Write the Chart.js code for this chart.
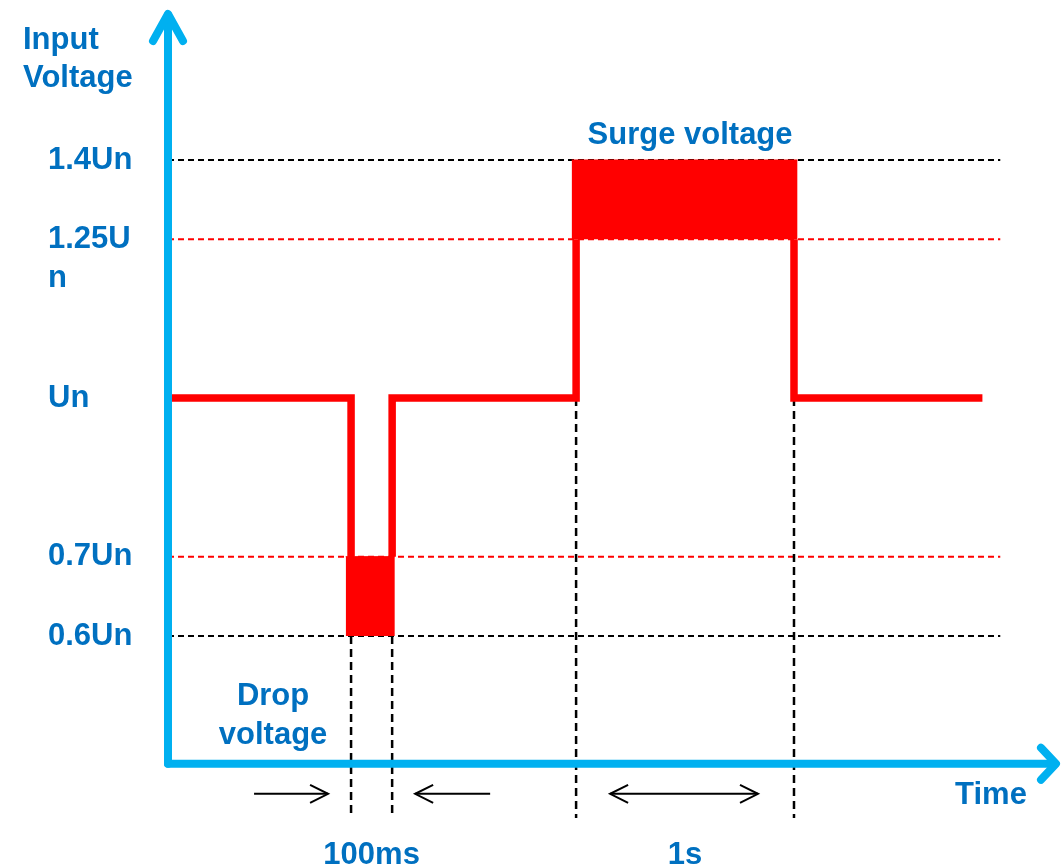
<!DOCTYPE html>
<html><head><meta charset="utf-8">
<script src="https://cdn.jsdelivr.net/npm/chart.js@4.4.1/dist/chart.umd.min.js"></script>
<style>html,body{margin:0;padding:0;background:#fff;} canvas{display:block;}</style>
</head><body>
<canvas id="c" width="1061" height="865"></canvas>
<script>
// ---- data ----
const voltLevels = [0.6, 0.7, 1.0, 1.25, 1.4];
const voltLabels = ['0.6Un', '0.7Un', 'Un', '1.25Un', '1.4Un'];
const levelRows = [0, 1, 3, 5, 6];            // schematic row of each level on the voltage axis
const blackRefVolts = [1.4, 0.6];
const redRefVolts = [1.25, 0.7];
const signalTimes = [0.03, 2.05, 2.05, 2.28, 2.51, 2.51, 4.57, 4.57, 5.79, 7.01, 7.01, 9.12];
const signalVolts = [1.0, 1.0, 0.7, null, 0.7, 1.0, 1.0, 1.25, null, 1.25, 1.0, 1.0];
const dropTimes = [1.99, 2.54];
const dropVolts = [0.6, 0.7];
const surgeTimes = [4.52, 7.05];
const surgeVolts = [1.25, 1.4];
const eventTimes = [2.05, 2.51, 4.57, 7.01];
const eventVolts = [0.6, 0.6, 1.0, 1.0];
const durationLabels = ['100ms', '1s'];
const durationSpans = [[2.05, 2.51], [4.57, 7.01]];

// ---- layout ----
const X_MAX = 10, Y_MIN = -2.3824, Y_MAX = 8.0168;
const REF_END = 9.32, GUIDE_BOTTOM = -2.294, AXIS_ROW = -1.61, ARROW_ROW = -1.99;
const FONT = '"Liberation Sans", Arial, sans-serif';
const BLUE = '#0070C0', AXIS_BLUE = '#00B0F0', RED = '#FF0000';

const row = v => levelRows[voltLevels.indexOf(v)];

const datasets = [];
datasets.push({
  data: signalTimes.map((t, i) => ({x: t, y: signalVolts[i] === null ? null : row(signalVolts[i])})),
  borderColor: RED, borderWidth: 7.5, borderJoinStyle: 'miter', borderCapStyle: 'butt', order: 0
});
datasets.push({
  data: dropTimes.map(t => ({x: t, y: row(dropVolts[1])})),
  borderColor: RED, borderWidth: 1, fill: {value: row(dropVolts[0])}, backgroundColor: RED, order: 1
});
datasets.push({
  data: surgeTimes.map(t => ({x: t, y: row(surgeVolts[1])})),
  borderColor: RED, borderWidth: 1, fill: {value: row(surgeVolts[0])}, backgroundColor: RED, order: 1
});
blackRefVolts.forEach(v => datasets.push({
  data: [{x: 0, y: row(v)}, {x: REF_END, y: row(v)}],
  borderColor: '#000', borderWidth: 2, borderDash: [6, 4], order: 3
}));
redRefVolts.forEach(v => datasets.push({
  data: [{x: 0, y: row(v)}, {x: REF_END, y: row(v)}],
  borderColor: RED, borderWidth: 2, borderDash: [6, 4], order: 3
}));
eventTimes.forEach((t, i) => datasets.push({
  data: [{x: t, y: row(eventVolts[i])}, {x: t, y: GUIDE_BOTTOM}],
  borderColor: '#000', borderWidth: 2.5, borderDash: [8, 5], order: 2
}));

const wrapLabel = s => s.length > 5 ? ['', s.slice(0, 5), s.slice(5)] : s;

const schematic = {
  id: 'schematic',
  afterDraw(chart) {
    const {ctx, chartArea: ca, scales: {x: xs, y: ys}} = chart;
    const ox = xs.getPixelForValue(0), oy = ys.getPixelForValue(AXIS_ROW);
    ctx.save();
    // axes with arrow heads
    ctx.strokeStyle = AXIS_BLUE; ctx.lineWidth = 8; ctx.lineCap = 'round'; ctx.lineJoin = 'round';
    ctx.beginPath(); ctx.moveTo(ox, oy); ctx.lineTo(ox, ca.top + 15); ctx.stroke();
    ctx.beginPath(); ctx.moveTo(ox - 15, ca.top + 41); ctx.lineTo(ox, ca.top + 14); ctx.lineTo(ox + 15, ca.top + 41); ctx.stroke();
    const tipX = ca.right - 5;
    ctx.beginPath(); ctx.moveTo(ox, oy); ctx.lineTo(tipX - 2, oy); ctx.stroke();
    ctx.beginPath(); ctx.moveTo(tipX - 15, oy - 16); ctx.lineTo(tipX, oy); ctx.lineTo(tipX - 15, oy + 16); ctx.stroke();

    // duration arrows
    ctx.strokeStyle = '#000'; ctx.lineWidth = 2; ctx.lineCap = 'butt'; ctx.lineJoin = 'miter';
    const ay = ys.getPixelForValue(ARROW_ROW);
    const head = (x, dir) => { ctx.beginPath(); ctx.moveTo(x - dir * 18, ay - 9); ctx.lineTo(x, ay); ctx.lineTo(x - dir * 18, ay + 9); ctx.stroke(); };
    const seg = (a, b) => { ctx.beginPath(); ctx.moveTo(a, ay); ctx.lineTo(b, ay); ctx.stroke(); };
    const d0 = xs.getPixelForValue(durationSpans[0][0]), d1 = xs.getPixelForValue(durationSpans[0][1]);
    seg(d0 - 97, d0 - 23); head(d0 - 23, 1);
    seg(d1 + 23, d1 + 98); head(d1 + 23, -1);
    const s0 = xs.getPixelForValue(durationSpans[1][0]), s1 = xs.getPixelForValue(durationSpans[1][1]);
    seg(s0 + 34, s1 - 36); head(s0 + 34, -1); head(s1 - 36, 1);

    // texts
    ctx.fillStyle = BLUE; ctx.font = 'bold 31px ' + FONT; ctx.textBaseline = 'middle';
    ctx.textAlign = 'left';
    ctx.fillText('Input', 23, 40);
    ctx.fillText('Voltage', 23, 78);
    ctx.textAlign = 'center';
    ctx.fillText('Surge voltage', (s0 + s1) / 2 + 5, ys.getPixelForValue(row(1.4)) - 25);
    ctx.fillText('Drop', d0 - 78, 696);
    ctx.fillText('voltage', d0 - 78, 735);
    ctx.fillText('Time', 991, 795);
    ctx.restore();
  }
};

new Chart(document.getElementById('c'), {
  type: 'line',
  data: {datasets},
  options: {
    responsive: false, animation: false,
    layout: {padding: {left: 48, top: 0, right: 0, bottom: 0}},
    elements: {point: {radius: 0, hoverRadius: 0}, line: {tension: 0}},
    plugins: {legend: {display: false}, tooltip: {enabled: false}, title: {display: false}},
    scales: {
      x: {
        type: 'linear', min: 0, max: X_MAX, bounds: 'data',
        grid: {display: false}, border: {display: false},
        afterBuildTicks: s => { s.ticks = durationSpans.map(p => ({value: (p[0] + p[1]) / 2})); },
        afterFit: s => { s.height = 40; s.paddingLeft = 0; s.paddingRight = 0; },
        ticks: {
          autoSkip: false, maxRotation: 0, minRotation: 0, padding: 3, color: BLUE,
          font: {family: FONT, weight: 'bold', size: 31, lineHeight: 1.25},
          callback: (v, i) => durationLabels[i]
        }
      },
      y: {
        type: 'linear', min: Y_MIN, max: Y_MAX, bounds: 'data',
        grid: {display: false}, border: {display: false},
        afterBuildTicks: s => { s.ticks = levelRows.map(r => ({value: r})); },
        afterFit: s => { s.width = 120; s.paddingTop = 0; s.paddingBottom = 0; },
        ticks: {
          autoSkip: false, padding: 0, crossAlign: 'far', color: BLUE,
          font: {family: FONT, weight: 'bold', size: 31, lineHeight: 1.25},
          callback: (v, i) => wrapLabel(voltLabels[i])
        }
      }
    }
  },
  plugins: [schematic]
});
</script>
</body></html>
